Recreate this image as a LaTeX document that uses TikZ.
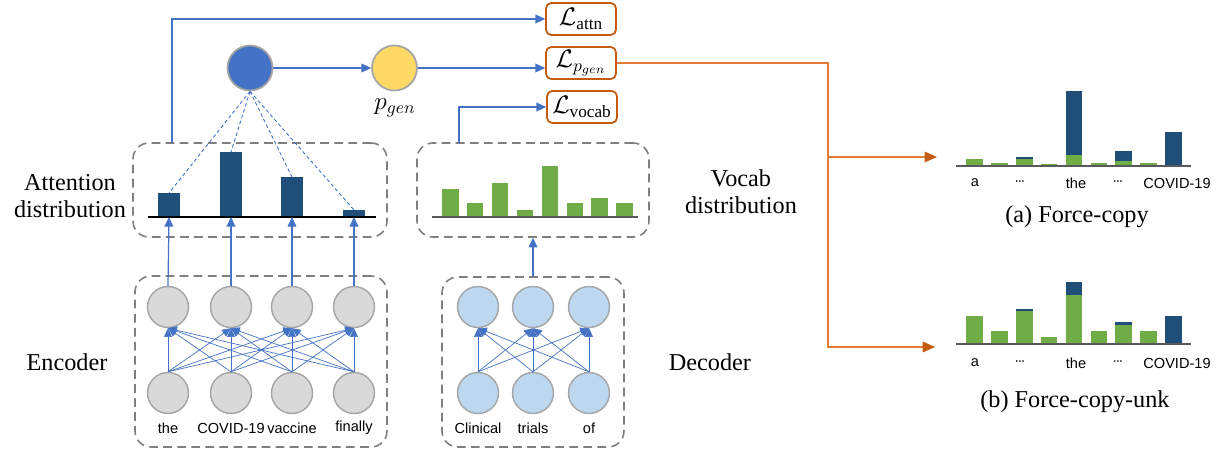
\documentclass[tikz,border=0pt]{standalone}
\usepackage{fontspec}
\usepackage{amsmath}
\setmainfont{Liberation Serif}
\setsansfont{Liberation Sans}
\usetikzlibrary{arrows.meta,calc,positioning}

\definecolor{barblue}{HTML}{1F4E79}
\definecolor{bargreen}{HTML}{70AD47}
\definecolor{lineblue}{HTML}{4472C4}
\definecolor{nodegrey}{HTML}{D9D9D9}
\definecolor{rimgrey}{HTML}{A5A5A5}
\definecolor{declight}{HTML}{BDD7EE}
\definecolor{pgenyellow}{HTML}{FFD966}
\definecolor{lossorange}{HTML}{C55A11}
\definecolor{lineorange}{HTML}{E07A35}
\definecolor{boxgrey}{HTML}{7F7F7F}

\newcommand{\middots}{\textperiodcentered\kern-0.12em\textperiodcentered\kern-0.12em\textperiodcentered}

\begin{document}
\begin{tikzpicture}[x=0.02cm,y=-0.02cm]

\tikzset{neuron/.style = {shape=circle,draw=rimgrey,line width=0.8pt,minimum size=0.82cm,inner sep=0pt}}
\tikzset{gate/.style = {shape=circle,draw=rimgrey,line width=1pt,minimum size=0.9cm,inner sep=0pt}}
\tikzset{lossbox/.style = {draw=lossorange,line width=1pt,rounded corners=3pt,minimum width=1.4cm,minimum height=0.64cm,inner sep=0pt,font=\fontsize{14}{16}\selectfont}}
\tikzset{dashbox/.style = {draw=boxgrey,dash pattern=on 5pt off 3pt,line width=0.9pt,rounded corners=9pt}}
\tikzset{edge1/.style = {lineblue,line width=0.7pt,-{Triangle[length=5.5pt,width=5pt]}}}
\tikzset{edge2/.style = {lineblue,line width=0.4pt,-{Triangle[length=5pt,width=4.5pt]}}}
\tikzset{edge3/.style = {lineorange,line width=0.7pt,-{Triangle[length=7pt,width=6pt,color=lossorange]}}}
\tikzset{word/.style = {font=\fontsize{8.3}{10}\sffamily}}
\tikzset{bigtext/.style = {font=\fontsize{13.8}{15.4}\selectfont,align=center}}

\useasboundingbox (0,0) rectangle (1225,452);

% boxes
\node[dashbox,minimum width=5.08cm,minimum height=1.88cm] (attbox) at (260,190) {};
\node[dashbox,minimum width=4.64cm,minimum height=1.88cm] (vocbox) at (533,190) {};
\node[dashbox,minimum width=5.04cm,minimum height=3.42cm] (encbox) at (261,361.5) {};
\node[dashbox,minimum width=3.64cm,minimum height=3.4cm] (decbox) at (533,362) {};

% side labels
\node[bigtext] (attlab) at (70,196) {Attention\\distribution};
\node[bigtext] (voclab) at (741,192) {Vocab\\distribution};
\node[bigtext] (enclab) at (67,362) {Encoder};
\node[bigtext] (declab) at (710,362) {Decoder};

% vertices
\foreach \x/\w [count=\i] in {168/the,231/COVID-19,292/vaccine,354/finally}{
  \node[neuron,fill=nodegrey] (h\i) at (\x,307) {};
  \node[neuron,fill=nodegrey] (x\i) at (\x,393) {};
  \node[word] (w\i) at (\x,428) {\w};
}
\foreach \x/\w [count=\i] in {478/Clinical,533/trials,589/of}{
  \node[neuron,fill=declight] (s\i) at (\x,307) {};
  \node[neuron,fill=declight] (y\i) at (\x,393) {};
  \node[word] (v\i) at (\x,428) {\w};
}
\node[gate,fill=lineblue] (hid) at (250,68) {};
\node[gate,fill=pgenyellow] (pgen) at (394.5,68) {};
\node[font=\fontsize{14}{16}\selectfont] (pgenlab) at (395,108) {$p_{gen}$};

\node[lossbox] (lattn) at (581,19) {$\mathcal{L}_{\text{attn}}$};
\node[lossbox] (lpgen) at (581,63) {$\mathcal{L}_{p_{gen}}$};
\node[lossbox] (lvocab) at (582,107) {$\mathcal{L}_{\text{vocab}}$};

% bars
\foreach \x/\h [count=\i] in {169/24,231/65,292/40,354/7}{
  \fill[barblue] (\x-11,217) rectangle (\x+11,217-\h);
  \coordinate (ab\i) at (\x,217);
  \coordinate (at\i) at (\x,217-\h);
}
\draw[line width=0.8pt] (148,217) -- (376,217);

\foreach \h [count=\i from 0] in {28,14,34,7,51,14,19,14}
  \fill[bargreen] (442+24.9*\i,217) rectangle ++(16.5,-\h);
\draw[line width=0.8pt,black!65] (432,217) -- (638,217);

%edges
\foreach \i in {1,...,4}
  \foreach \j in {1,...,4}
    \draw[edge2] (x\i.north) -- (h\j.south);
\foreach \i in {1,...,3}
  \foreach \j in {1,...,3}
    \draw[edge2] (y\i.north) -- (s\j.south);
\foreach \i in {1,...,4}{
  \draw[edge1] (h\i.north) -- (ab\i);
  \draw[lineblue,line width=0.5pt,dash pattern=on 2pt off 1.5pt] (hid.south) -- (at\i);
}
\draw[edge1] (decbox.north) -- (vocbox.south);

\coordinate (attout) at (172,143);
\coordinate (vocout) at (459,143);
\draw[edge1] (attout) |- (lattn.west);
\draw[edge1] (hid) -- (pgen);
\draw[edge1] (pgen) -- (pgen -| lpgen.west);
\draw[edge1] (vocout) |- (lvocab.west);

\coordinate (split) at (828,157);
\coordinate (fca) at (937,157);
\coordinate (fcb) at (935,347);
\draw[lineorange,line width=0.7pt] (lpgen.east) -| (split);
\draw[edge3] (split) -- (fca);
\draw[edge3] (split) |- (fcb);

% force-copy charts
\foreach \g/\b [count=\i from 0] in {7/0,3/0,7/9,2/0,11/75,3/0,5/15,3/0,0/34}{
  \fill[barblue] (966+24.9*\i,166) rectangle ++(16.7,-\b);
  \fill[bargreen] (966+24.9*\i,166) rectangle ++(16.7,-\g);
}
\foreach \g/\b [count=\i from 0] in {28/0,13/0,33/35,7/0,49/62,13/0,19/22,13/0,0/28}{
  \fill[barblue] (966+24.9*\i,344) rectangle ++(16.7,-\b);
  \fill[bargreen] (966+24.9*\i,344) rectangle ++(16.7,-\g);
}
\draw[line width=0.8pt,black!65] (956,166) -- (1191,166);
\draw[line width=0.8pt,black!65] (956,344) -- (1191,344);
\foreach \x/\w [count=\i] in {975/a,1020/\middots,1076/the,1118/\middots,1177/COVID-19}{
  \node[word] (ta\i) at (\x,183) {\w};
  \node[word] (tb\i) at (\x,363) {\w};
}
\node[bigtext] (capa) at (1077,217) {(a) Force-copy};
\node[bigtext] (capb) at (1075,402) {(b) Force-copy-unk};

\end{tikzpicture}
\end{document}
